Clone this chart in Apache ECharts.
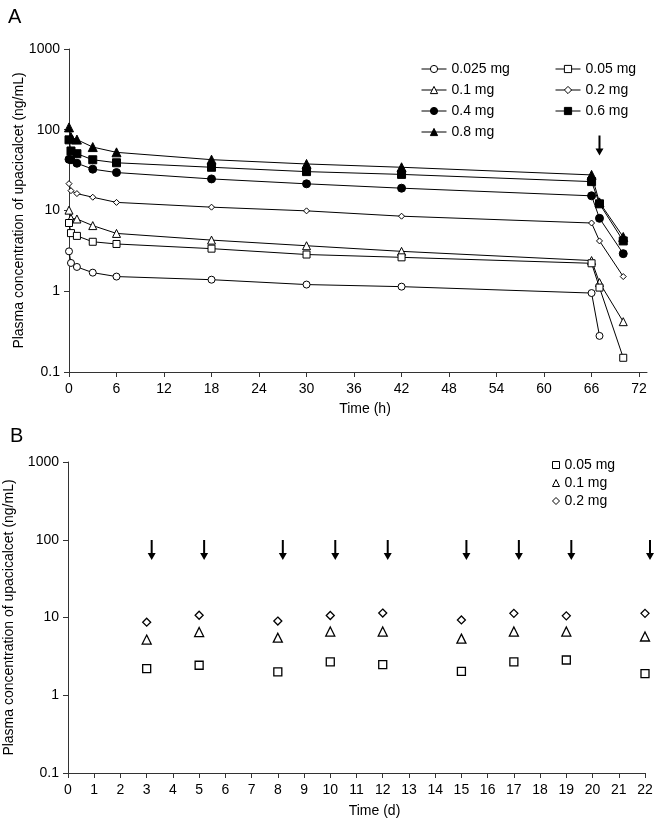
<!DOCTYPE html>
<html>
<head>
<meta charset="utf-8">
<script src="https://cdn.jsdelivr.net/npm/echarts@6/dist/echarts.min.js"></script>
<style>
  html, body { margin: 0; padding: 0; background: #fff; }
  #container { width: 657px; height: 824px; }
</style>
</head>
<body>
<div id="container"></div>
<script>
// panel A: single dose, time in hours
const timesA = [0, 0.25, 1, 3, 6, 18, 30, 42, 66, 67, 70];
const dosesA = ['0.025 mg', '0.05 mg', '0.1 mg', '0.2 mg', '0.4 mg', '0.6 mg', '0.8 mg'];
const conc0025 = [3.12, 2.24, 2.0, 1.7, 1.52, 1.39, 1.21, 1.14, 0.95, 0.28, null];
const conc005 = [7.0, 5.25, 4.85, 4.1, 3.85, 3.37, 2.85, 2.63, 2.22, 1.11, 0.15];
const conc01 = [10.1, 8.0, 7.85, 6.5, 5.2, 4.3, 3.66, 3.12, 2.4, 1.28, 0.42];
const conc02 = [21.5, 17.6, 16.2, 14.6, 12.6, 11.0, 9.9, 8.5, 7.0, 4.2, 1.52];
const conc04 = [43, 42.5, 38.5, 32.5, 29.5, 24.6, 21.4, 18.9, 15.2, 8.0, 2.92];
const conc06 = [75, 54.6, 50.5, 42.5, 39, 34.3, 30.3, 28, 22.8, 12.1, 4.2];
const conc08 = [107, 81, 75.5, 61, 52.5, 42.6, 37.7, 34.3, 27.6, 12.6, 4.7];
const doseTimeA = [67];

// panel B: repeated dosing, time in days
const daysB = [3, 5, 8, 10, 12, 15, 17, 19, 22];
const dosesB = ['0.05 mg', '0.1 mg', '0.2 mg'];
const trough005 = [2.2, 2.43, 2.0, 2.68, 2.48, 2.03, 2.68, 2.84, 1.9];
const trough01 = [5.2, 6.5, 5.5, 6.6, 6.6, 5.35, 6.6, 6.6, 5.7];
const trough02 = [8.7, 10.7, 9.0, 10.6, 11.4, 9.3, 11.3, 10.5, 11.3];
const doseDaysB = [3, 5, 8, 10, 12, 15, 17, 19, 22];

const ticksA = [0, 6, 12, 18, 24, 30, 36, 42, 48, 54, 60, 66, 72];
const arrowLevelA = 64;
const arrowLevelB = 74;

const FONT = '"Liberation Sans", Arial, sans-serif';
const AXIS = '#333';
const ARROW = 'path://M3,0L5,0L5,13L8,13L4,20L0,13L3,13Z';

const chart = echarts.init(document.getElementById('container'));

const logLabel = (v) => String(+(+v).toPrecision(3));

function yAxis(gridIndex, nameGap) {
    return {
        type: 'log', logBase: 10, min: 0.1, max: 1000, gridIndex,
        name: 'Plasma concentration of upacicalcet (ng/mL)',
        nameLocation: 'middle', nameGap, nameMoveOverlap: false,
        nameTextStyle: { fontFamily: FONT, fontSize: 14, color: '#000' },
        axisLine: { lineStyle: { color: AXIS, width: 1 } },
        axisTick: { show: true, length: 5, lineStyle: { color: AXIS } },
        axisLabel: { formatter: logLabel, fontFamily: FONT, fontSize: 14, color: '#000', margin: 9 },
        splitLine: { show: false },
        minorTick: { show: false },
    };
}

// open / filled marker styles
const open = { color: '#fff', borderColor: '#000', borderWidth: 1, opacity: 1 };
const filled = { color: '#000', borderColor: '#000', borderWidth: 1, opacity: 1 };

const seriesA = [
    [conc0025, 'circle', 7, open],
    [conc005, 'rect', 7, open],
    [conc01, 'triangle', 8, open],
    [conc02, 'diamond', 6, open],
    [conc04, 'circle', 8, filled],
    [conc06, 'rect', 8, filled],
    [conc08, 'triangle', 9, filled],
].map(([vals, symbol, size, style], i) => ({
    type: 'line',
    name: dosesA[i],
    xAxisIndex: 0, yAxisIndex: 0,
    data: timesA.map((t, j) => [t, vals[j]]).filter(p => p[1] != null),
    symbol, symbolSize: size,
    showAllSymbol: true,
    clip: false,
    lineStyle: { color: '#000', width: 1 },
    itemStyle: style,
    emphasis: { disabled: true },
    z: 10 - i,
}));

const seriesB = [
    [trough005, 'rect', 8],
    [trough01, 'triangle', 9],
    [trough02, 'diamond', 8],
].map(([vals, symbol, size], i) => ({
    type: 'scatter',
    name: 'B ' + dosesB[i],
    xAxisIndex: 1, yAxisIndex: 1,
    data: daysB.map((d, j) => [d, vals[j]]),
    symbol, symbolSize: size,
    itemStyle: { ...open, borderWidth: 1.3 },
    clip: false,
    emphasis: { disabled: true },
}));

const arrows = [
    {
        type: 'scatter', xAxisIndex: 0, yAxisIndex: 0,
        data: doseTimeA.map(t => [t, arrowLevelA]),
        symbol: ARROW, symbolSize: [8, 20],
        itemStyle: { color: '#000', opacity: 1 }, silent: true, clip: false,
    },
    {
        type: 'scatter', xAxisIndex: 1, yAxisIndex: 1,
        data: doseDaysB.map(d => [d, arrowLevelB]),
        symbol: ARROW, symbolSize: [8, 20], symbolOffset: [5, 0],
        itemStyle: { color: '#000', opacity: 1 }, silent: true, clip: false,
    },
];

const legendText = { fontFamily: FONT, fontSize: 14, color: '#000' };
const legendLine = { width: 1 };
const legendItem = { borderWidth: 1 };

chart.setOption({
    animation: false,
    backgroundColor: '#fff',
    title: [
        { text: 'A', left: 3, top: 2, textStyle: { fontFamily: FONT, fontSize: 20, fontWeight: 'normal', color: '#000' } },
        { text: 'B', left: 5, top: 421, textStyle: { fontFamily: FONT, fontSize: 20, fontWeight: 'normal', color: '#000' } },
    ],
    grid: [
        { left: 69, right: 10, top: 49, height: 323, outerBoundsMode: 'none' },
        { left: 68, right: 12, top: 462, height: 311, outerBoundsMode: 'none' },
    ],
    legend: [
        {
            data: ['0.025 mg', '0.1 mg', '0.4 mg', '0.8 mg'],
            orient: 'vertical', left: 421, top: 62, padding: 0,
            itemWidth: 25, itemHeight: 9, itemGap: 7,
            lineStyle: legendLine, itemStyle: legendItem,
            textStyle: legendText, selectedMode: false,
        },
        {
            data: ['0.05 mg', '0.2 mg', '0.6 mg'],
            orient: 'vertical', left: 555, top: 62, padding: 0,
            itemWidth: 25, itemHeight: 9, itemGap: 7,
            lineStyle: legendLine, itemStyle: legendItem,
            textStyle: legendText, selectedMode: false,
        },
        {
            data: dosesB.map(d => 'B ' + d),
            formatter: (n) => n.replace('B ', ''),
            orient: 'vertical', left: 552, top: 458, padding: 0,
            itemWidth: 7, itemHeight: 7, itemGap: 4,
            itemStyle: legendItem,
            textStyle: legendText, selectedMode: false,
        },
    ],
    xAxis: [
        {
            type: 'value', gridIndex: 0, min: 0, max: 73,
            name: 'Time (h)', nameLocation: 'middle', nameGap: 30, nameMoveOverlap: false,
            nameTextStyle: { fontFamily: FONT, fontSize: 14, color: '#000', padding: [0, 0, 0, 14] },
            axisLine: { onZero: false, lineStyle: { color: AXIS, width: 1 } },
            axisTick: { length: 5, customValues: ticksA, lineStyle: { color: AXIS } },
            axisLabel: { customValues: ticksA, fontFamily: FONT, fontSize: 14, color: '#000', margin: 10 },
            splitLine: { show: false },
        },
        {
            type: 'value', gridIndex: 1, min: 0, max: 22, interval: 1,
            name: 'Time (d)', nameLocation: 'middle', nameGap: 31, nameMoveOverlap: false,
            nameTextStyle: { fontFamily: FONT, fontSize: 14, color: '#000', padding: [0, 0, 0, 36] },
            axisLine: { onZero: false, lineStyle: { color: AXIS, width: 1 } },
            axisTick: { length: 5, lineStyle: { color: AXIS } },
            axisLabel: { fontFamily: FONT, fontSize: 14, color: '#000', margin: 10 },
            splitLine: { show: false },
        },
    ],
    yAxis: [yAxis(0, 43), yAxis(1, 52)],
    series: [...seriesA, ...seriesB, ...arrows],
});
</script>
</body>
</html>
